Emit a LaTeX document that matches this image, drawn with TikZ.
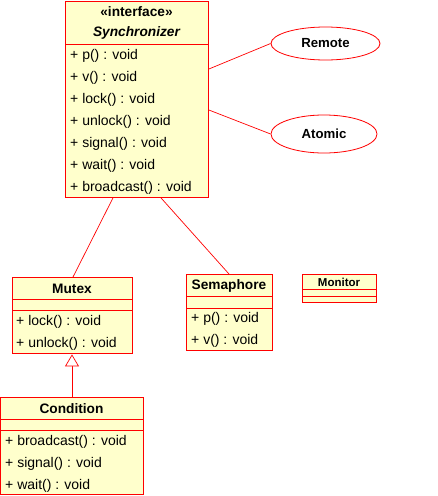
\documentclass[tikz,border=0pt]{standalone}
\usepackage{fontspec}
\setmainfont{Liberation Sans}
\usetikzlibrary{shapes.geometric,arrows.meta,calc}
\definecolor{umlfill}{RGB}{255,255,204}
\definecolor{umlred}{RGB}{255,0,0}
\tikzset{
  cls/.style={draw=umlred, fill=umlfill, line width=0.9pt, rectangle, anchor=north west, inner sep=0pt},
  sep/.style={draw=umlred, line width=0.9pt},
  member/.style={anchor=west, inner sep=0pt, font=\fontsize{14}{14}\selectfont},
  title/.style={anchor=center, inner sep=0pt, font=\fontsize{13.7}{13.7}\selectfont\bfseries},
  usecase/.style={draw=umlred, fill=white, ellipse, line width=0.8pt, inner sep=0pt, font=\fontsize{13.2}{13.2}\selectfont\bfseries},
  assoc/.style={draw=umlred, line width=0.7pt},
}
\begin{document}
\begin{tikzpicture}[x=1pt,y=-1pt]
\useasboundingbox (0,0) rectangle (438,496);
% Synchronizer
\node[cls, minimum width=143pt, minimum height=196pt] (sync) at (65,1) {};
\node[title] (syncst) at (136.5,12) {«interface»};
\node[title, font=\fontsize{13.7}{13.7}\selectfont\bfseries\itshape] (syncname) at (136.5,33) {Synchronizer};
\draw[sep] (65,44) -- (208,44);
\node[member] (s1) at (70,55.5) {+ p() : void};
\node[member] (s2) at (70,77.5) {+ v() : void};
\node[member] (s3) at (70,99.5) {+ lock() : void};
\node[member] (s4) at (70,121.5) {+ unlock() : void};
\node[member] (s5) at (70,143.5) {+ signal() : void};
\node[member] (s6) at (70,165.5) {+ wait() : void};
\node[member] (s7) at (70,187.5) {+ broadcast() : void};
% Remote / Atomic
\node[usecase, minimum width=109pt, minimum height=33pt] (remote) at (325.5,43.5) {Remote};
\node[usecase, minimum width=106pt, minimum height=38pt] (atomic) at (324,134) {Atomic};
% Mutex
\node[cls, minimum width=120pt, minimum height=76pt] (mutex) at (12,277) {};
\node[title] (mutexname) at (72,288.5) {Mutex};
\draw[sep] (12,299) -- (132,299);
\draw[sep] (12,310) -- (132,310);
\node[member] (m1) at (16,322) {+ lock() : void};
\node[member] (m2) at (16,344) {+ unlock() : void};
% Semaphore
\node[cls, minimum width=86pt, minimum height=76pt] (sem) at (186,274) {};
\node[title] (semname) at (229,285.5) {Semaphore};
\draw[sep] (186,296) -- (272,296);
\draw[sep] (186,308) -- (272,308);
\node[member] (e1) at (191,319) {+ p() : void};
\node[member] (e2) at (191,341) {+ v() : void};
% Monitor
\node[cls, minimum width=74pt, minimum height=28pt] (mon) at (302,274) {};
\node[title, font=\fontsize{11.5}{11.5}\selectfont\bfseries] (monname) at (339,282) {Monitor};
\draw[sep] (302,289) -- (376,289);
\draw[sep] (302,296) -- (376,296);
% Condition
\node[cls, minimum width=143pt, minimum height=97pt] (cond) at (0,397) {};
\node[title] (condname) at (71.5,408.5) {Condition};
\draw[sep] (0,419) -- (143,419);
\draw[sep] (0,430) -- (143,430);
\node[member] (c1) at (5,442) {+ broadcast() : void};
\node[member] (c2) at (5,464) {+ signal() : void};
\node[member] (c3) at (5,486) {+ wait() : void};
% connectors
\draw[assoc] ($(sync.north east)+(0,68)$) -- (remote.west);
\draw[assoc] ($(sync.north east)+(0,109)$) -- (atomic.west);
\draw[assoc] ($(sync.south west)+(48,0)$) -- ($(mutex.north west)+(61,0)$);
\draw[assoc] ($(sync.south west)+(96,0)$) -- ($(sem.north west)+(43,0)$);
\draw[assoc, -{Triangle[open, length=12pt, width=14pt, fill=white]}] ($(cond.north west)+(72,0)$) -- ($(mutex.south west)+(60,0.5)$);
\end{tikzpicture}
\end{document}
